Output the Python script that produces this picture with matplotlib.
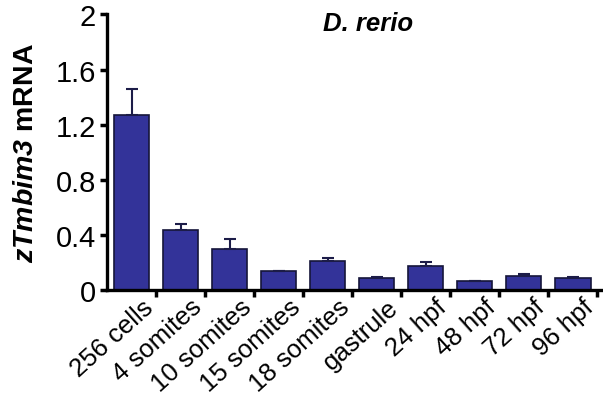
import matplotlib
matplotlib.use("Agg")
import matplotlib.pyplot as plt
import matplotlib.transforms as mtransforms
import numpy as np

categories = ["256 cells", "4 somites", "10 somites", "15 somites", "18 somites",
              "gastrule", "24 hpf", "48 hpf", "72 hpf", "96 hpf"]
values = [1.27, 0.44, 0.30, 0.14, 0.21, 0.087, 0.174, 0.065, 0.106, 0.087]
errors = [0.19, 0.04, 0.07, 0.003, 0.025, 0.012, 0.033, 0.006, 0.012, 0.012]
yticks = [0, 0.4, 0.8, 1.2, 1.6, 2]
yticklabels = ["0", "0.4", "0.8", "1.2", "1.6", "2"]

plt.rcParams['font.family'] = ['Liberation Sans', 'DejaVu Sans']
plt.rcParams['mathtext.fontset'] = 'custom'
plt.rcParams['mathtext.bfit'] = 'Liberation Sans:italic:bold'
plt.rcParams['mathtext.bf'] = 'Liberation Sans:bold'

fig = plt.figure(figsize=(6.03, 4.02), dpi=100)
ax = fig.add_axes([107/603, 1-291.3/402, 1-107/603, 276/402])

x = np.arange(len(categories))
ax.bar(x, values, width=0.73, color='#333399', edgecolor='#15153a', linewidth=1.2, zorder=2)
ax.errorbar(x, values, yerr=[np.zeros(len(errors)), errors], fmt='none',
            ecolor='#1c1c48', elinewidth=1.5, capsize=4, capthick=1.5, zorder=3)

ax.set_xlim(-0.5, 9.62)
ax.set_ylim(0, 2)
ax.set_yticks(yticks)
ax.set_yticklabels(yticklabels, fontsize=21)
ax.set_xticks(x)
ax.set_xticklabels(categories, fontsize=18.5, rotation=42, ha='right', rotation_mode='anchor')
ax.tick_params(axis='x', which='major', length=0, pad=3)
offset = mtransforms.ScaledTranslation(10/100, 0, fig.dpi_scale_trans)
for lbl in ax.get_xticklabels():
    lbl.set_transform(lbl.get_transform() + offset)
ax.set_xticks(np.arange(0.5, 9.6, 1.0), minor=True)
ax.tick_params(axis='x', which='minor', length=5, width=2.5, direction='out')
ax.tick_params(axis='y', length=5, width=2.5, direction='out', pad=3)

for s in ['top', 'right']:
    ax.spines[s].set_visible(False)
for s in ['left', 'bottom']:
    ax.spines[s].set_linewidth(2.4)

ax.set_ylabel(r"$\mathbfit{zTmbim3}$ mRNA", fontsize=20.5, fontweight='bold', labelpad=12)
ax.text(0.526, 1.012, "D. rerio", transform=ax.transAxes, fontsize=18.5,
        fontweight='bold', fontstyle='italic', ha='center', va='top')

fig.savefig("out.png", dpi=100)
